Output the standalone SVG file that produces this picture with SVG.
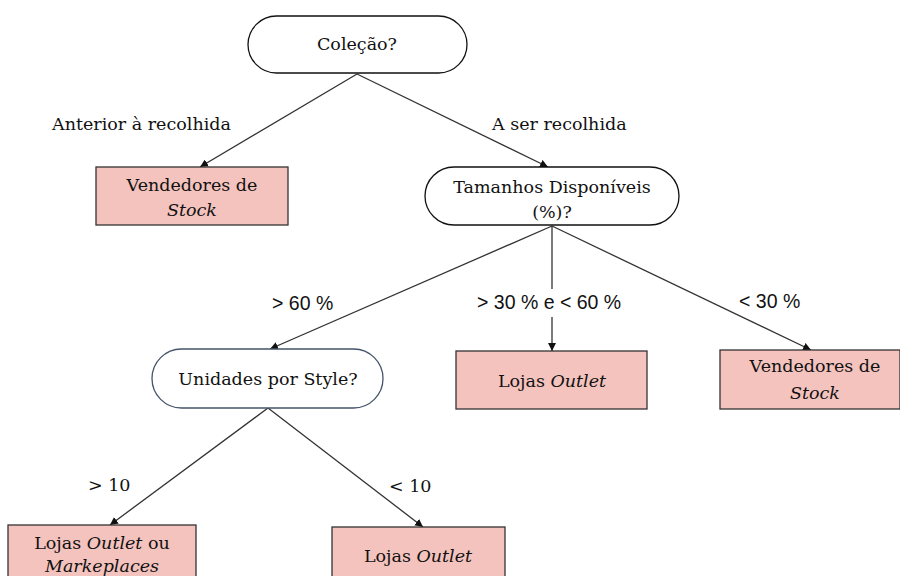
<svg xmlns="http://www.w3.org/2000/svg" width="900" height="576" viewBox="0 0 900 576">
<style>
.t{font-family:'DejaVu Serif','Liberation Serif',serif;font-size:17.5px;fill:#111;text-anchor:middle}
.lbl{font-family:'DejaVu Serif','Liberation Serif',serif;font-size:17.5px;fill:#111}
.s{font-family:'Liberation Sans',Arial,sans-serif;font-size:19.5px;fill:#111}
.dec{fill:#fff;stroke:#111;stroke-width:1.3}
.dec2{fill:#fff;stroke:#44546A;stroke-width:1.3}
.box{fill:#F4C3BE;stroke:#333;stroke-width:1.3}
.c line{stroke:#333;stroke-width:1.3;marker-end:url(#ah)}
</style>
<defs>
<marker id="ah" viewBox="0 0 10 10" refX="10" refY="5" markerWidth="8" markerHeight="8" markerUnits="userSpaceOnUse" orient="auto">
<path d="M0,0 L10,5 L0,10 z" fill="#111"/>
</marker>
</defs>
<rect width="900" height="576" fill="#fff"/>
<g id="connectors" class="c">
<line x1="357" y1="74" x2="200" y2="167"/>
<line x1="357" y1="74" x2="548" y2="167"/>
<line x1="552" y1="226" x2="270" y2="349"/>
<line x1="552" y1="226" x2="552" y2="351"/>
<line x1="552" y1="226" x2="811" y2="350"/>
<line x1="268" y1="408" x2="110" y2="525"/>
<line x1="268" y1="408" x2="423" y2="527"/>
</g>
<g id="edge-labels">
<text class="lbl" x="52" y="130">Anterior à recolhida</text>
<text class="lbl" x="492" y="130">A ser recolhida</text>
<text class="s" x="272" y="310">&gt; 60 %</text>
<rect x="474" y="289" width="152" height="28" fill="#fff"/>
<text class="s" x="477" y="309">&gt; 30 % e &lt; 60 %</text>
<text class="s" x="739" y="308">&lt; 30 %</text>
<text class="lbl" x="88" y="491">&gt; 10</text>
<text class="lbl" x="389" y="492">&lt; 10</text>
</g>
<g id="colecao">
<rect class="dec" x="248" y="16" width="219" height="57" rx="28.5"/>
<text class="t" x="357" y="50">Coleção?</text>
</g>
<g id="vendedores1">
<rect class="box" x="96" y="167" width="192" height="58"/>
<text class="t" x="192" y="191">Vendedores de</text>
<text class="t" x="192" y="216" font-style="italic">Stock</text>
</g>
<g id="tamanhos">
<rect class="dec" x="425" y="167" width="254" height="58" rx="29"/>
<text class="t" x="552" y="193">Tamanhos Disponíveis</text>
<text class="t" x="552" y="218">(%)?</text>
</g>
<g id="unidades">
<rect class="dec2" x="152" y="349" width="231" height="59" rx="29.5"/>
<text class="t" x="268" y="385">Unidades por Style?</text>
</g>
<g id="lojas1">
<rect class="box" x="456" y="351" width="191" height="58"/>
<text class="t" x="552" y="387">Lojas <tspan font-style="italic">Outlet</tspan></text>
</g>
<g id="vendedores2">
<rect class="box" x="720" y="350" width="180" height="59"/>
<text class="t" x="815" y="372">Vendedores de</text>
<text class="t" x="815" y="399" font-style="italic">Stock</text>
</g>
<g id="lojas-ou-markeplaces">
<rect class="box" x="8" y="525" width="188" height="60"/>
<text class="t" x="102" y="549">Lojas <tspan font-style="italic">Outlet</tspan> ou</text>
<text class="t" x="102" y="572" font-style="italic">Markeplaces</text>
</g>
<g id="lojas2">
<rect class="box" x="332" y="527" width="173" height="60"/>
<text class="t" x="418" y="562">Lojas <tspan font-style="italic">Outlet</tspan></text>
</g>
</svg>
